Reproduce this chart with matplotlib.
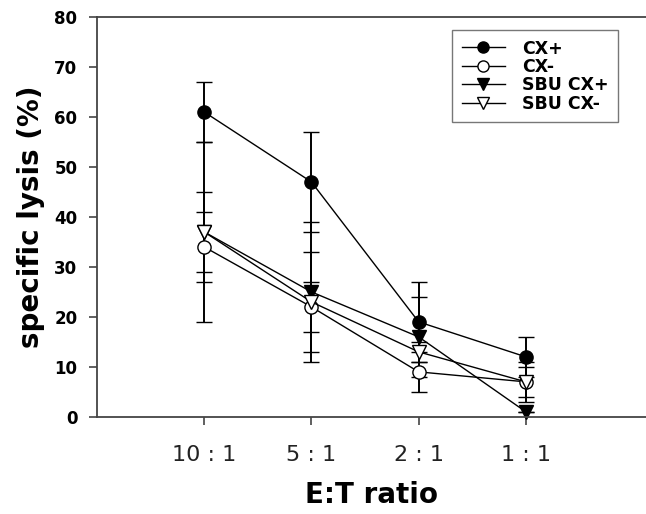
import matplotlib
matplotlib.use("Agg")
import matplotlib.pyplot as plt
from matplotlib.lines import Line2D

# data
ratios = ["10 : 1", "5 : 1", "2 : 1", "1 : 1"]
cx_pos = [61, 47, 19, 12]
cx_pos_err = [6, 10, 8, 4]
cx_neg = [34, 22, 9, 7]
cx_neg_err = [7, 5, 4, 3]
sbu_pos = [37, 25, 16, 1]
sbu_pos_err = [8, 14, 8, 0]
sbu_neg = [37, 23, 13, 7]
sbu_neg_err = [18, 10, 2, 4]

xpos = list(range(1, len(ratios) + 1))

fig = plt.figure(figsize=(6.46, 5.14), dpi=100)
ax = fig.add_axes([0.150, 0.189, 0.85, 0.778])

series = [
    ("CX+", cx_pos, cx_pos_err, "o", "black"),
    ("CX-", cx_neg, cx_neg_err, "o", "white"),
    ("SBU CX+", sbu_pos, sbu_pos_err, "v", "black"),
    ("SBU CX-", sbu_neg, sbu_neg_err, "v", "white"),
]

handles = []
for name, vals, errs, mk, fc in series:
    ax.errorbar(xpos, vals, yerr=errs, color="black", lw=1.0, marker=mk,
                markersize=9.5, markerfacecolor=fc, markeredgecolor="black",
                markeredgewidth=1.0, ecolor="black", elinewidth=1.4,
                capsize=6, capthick=1.4, clip_on=False)
    handles.append(Line2D([], [], color="black", lw=1.0, marker=mk, markersize=8,
                          markerfacecolor=fc, markeredgecolor="black",
                          markeredgewidth=1.0, label=name))

ax.set_xlim(0, 5.12)
ax.set_ylim(0, 80)
ax.set_xticks(xpos)
ax.set_xticklabels(ratios, fontsize=16, color="#222222")
ax.set_yticks(range(0, 81, 10))
ax.set_yticklabels([str(v) for v in range(0, 81, 10)], fontsize=12, fontweight="bold")

ax.set_ylabel("specific lysis (%)", fontsize=20, fontweight="bold", labelpad=7)
ax.set_xlabel("E:T ratio", fontsize=20, fontweight="bold", labelpad=12)

ax.spines["right"].set_visible(False)
for s in ["left", "bottom", "top"]:
    ax.spines[s].set_color("#444444")
    ax.spines[s].set_linewidth(1.3)
ax.tick_params(axis="both", direction="out", length=6, width=1.2, color="#444444")
ax.tick_params(axis="x", pad=14)
ax.tick_params(axis="y", pad=8)

leg = fig.legend(handles=handles, loc="upper left", bbox_to_anchor=(0.6997, 0.9416),
                 bbox_transform=fig.transFigure, frameon=True, fancybox=False,
                 edgecolor="#555555", handlelength=2.5, handletextpad=1.0,
                 borderpad=0.55, borderaxespad=0, labelspacing=0.02,
                 prop={"weight": "bold", "size": 12.5}, numpoints=1)
leg.get_frame().set_linewidth(1.0)

fig.savefig("out.png", dpi=100)
